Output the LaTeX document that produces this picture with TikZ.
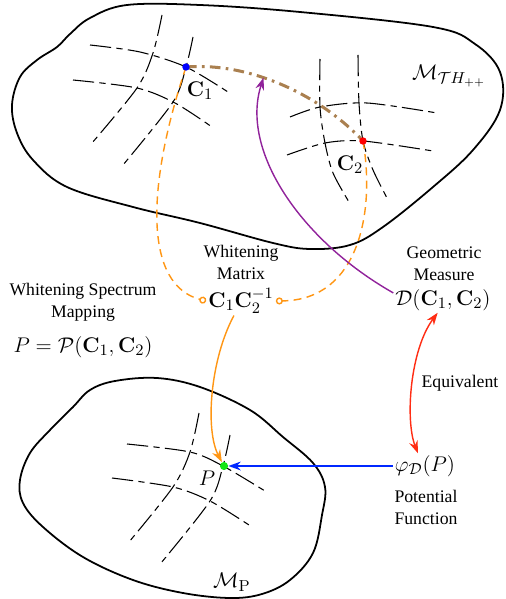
\documentclass[tikz,border=0pt]{standalone}
\usepackage[no-math]{fontspec}
\setmainfont{Liberation Serif}
\usetikzlibrary{arrows.meta}
\definecolor{geobrown}{RGB}{170,128,80}
\definecolor{wmorange}{RGB}{255,150,20}
\definecolor{mpurple}{RGB}{145,35,155}
\definecolor{eqred}{RGB}{255,45,20}
\definecolor{pblue}{RGB}{0,40,255}
\definecolor{pgreen}{RGB}{20,230,20}
\tikzset{
  blob/.style={line width=1pt},
  gridline/.style={line width=0.6pt, dash pattern=on 12pt off 3pt on 3.5pt off 3pt},
  dot/.style={circle, inner sep=0pt, minimum size=4.2pt},
  txt/.style={font=\fontsize{10}{12.4}\selectfont, align=center, inner sep=1pt},
  mth/.style={font=\fontsize{12.5}{15}\selectfont, inner sep=1pt},
  geo/.style={geobrown, line width=1.7pt, dash pattern=on 6pt off 3pt on 1.5pt off 3pt},
  whiten/.style={wmorange, line width=0.8pt, dash pattern=on 4.5pt off 3pt},
  opencirc/.style={-{Circle[open,length=4pt,line width=0.8pt]}},
  tip/.style={-{Stealth[length=7pt,width=5pt]}},
}
\begin{document}
\begin{tikzpicture}[x=0.565pt,y=-0.565pt]
\useasboundingbox (0,0) rectangle (505,599);

% manifolds
\draw[blob] plot[smooth cycle, tension=0.6] coordinates {
  (12,105) (20,77) (37,60) (57,47) (70,34) (90,18) (127,5) (200,5) (300,12)
  (433,27) (475,44) (500,72) (500,110) (473,150) (433,187) (383,227)
  (350,245) (310,249) (273,243) (200,223) (133,207) (67,187) (33,160) (17,133)};
\draw[blob] plot[smooth cycle, tension=0.6] coordinates {
  (20,480) (30,453) (50,430) (73,407) (90,390) (115,381) (157,378) (200,387)
  (250,410) (283,437) (313,463) (325,487) (322,515) (313,553) (290,580)
  (262,594) (230,598) (183,593) (133,580) (83,557) (43,527) (23,503)};

\coordinate (c1) at (186,67);
\coordinate (c2) at (363,141);
\coordinate (pp) at (224,466);

% grid on upper manifold
\draw[gridline] plot[smooth] coordinates {(90,45) (140,52) (186,67) (228,92)};
\draw[gridline] plot[smooth] coordinates {(73,80) (137,88) (175,103) (212,127)};
\draw[gridline] plot[smooth] coordinates {(162,15) (153,53) (137,88) (92,143)};
\draw[gridline] plot[smooth] coordinates {(193,37) (186,67) (173,102) (123,165)};
\draw[gridline] plot[smooth] coordinates {(320,59) (320,107) (325,143) (333,173) (349,202)};
\draw[gridline] plot[smooth] coordinates {(358,55) (359,103) (363,141) (373,170) (387,198)};
\draw[gridline] plot[smooth] coordinates {(290,117) (320,107) (367,103) (437,113)};
\draw[gridline] plot[smooth] coordinates {(287,155) (325,143) (363,141) (433,151)};

% grid on lower manifold
\draw[gridline] plot[smooth] coordinates {(127,444) (190,452) (223,466) (265,491)};
\draw[gridline] plot[smooth] coordinates {(112,478) (173,487) (210,501) (249,525)};
\draw[gridline] plot[smooth] coordinates {(199,413) (190,452) (173,487) (129,542)};
\draw[gridline] plot[smooth] coordinates {(230,435) (223,466) (210,501) (161,563)};

% texts
\node[mth] (mth) at (449,76) {$\mathcal{M}_{\mathcal{T}H_{++}}$};
\node[mth] (mp) at (232,582) {$\mathcal{M}_{\mathrm{P}}$};
\node[mth] (c1l) at (200,91) {$\mathbf{C}_1$};
\node[mth] (c2l) at (350,165) {$\mathbf{C}_2$};
\node[mth] (pl) at (207,478) {$P$};
\node[txt] (wm) at (241,262) {Whitening\\Matrix};
\node[mth] (cmat) at (241,301) {$\mathbf{C}_1\mathbf{C}_2^{-1}$};
\node[txt] (gm) at (444,264) {Geometric\\Measure};
\node[mth] (dm) at (443,300) {$\mathcal{D}(\mathbf{C}_1,\mathbf{C}_2)$};
\node[txt] (wsm) at (83,302) {Whitening Spectrum\\Mapping};
\node[mth] (pm) at (83,347) {$P=\mathcal{P}(\mathbf{C}_1,\mathbf{C}_2)$};
\node[txt] (eq) at (460,383) {Equivalent};
\node[mth] (phi) at (425,466) {$\varphi_{\mathcal{D}}(P)$};
\node[txt] (pf) at (426,507) {Potential\\Function};

% geodesic
\draw[geo] (c1) .. controls (250,62) and (320,95) .. coordinate[pos=0.4] (gtip) (c2);

% whitening dashed curves
\draw[whiten, opencirc] (c1) .. controls (145,190) and (145,285) .. (cmat.west);
\draw[whiten, opencirc] (c2) .. controls (375,210) and (360,300) .. (cmat.east);

% dots
\node[dot, fill=blue] (c1d) at (c1) {};
\node[dot, fill=red] (c2d) at (c2) {};
\node[dot, fill=pgreen, minimum size=4.6pt] (pd) at (pp) {};

% arrows
\draw[mpurple, line width=0.8pt, tip] ([yshift=4pt]dm.west) .. controls (300,240) and (240,150) .. (gtip);
\draw[wmorange, line width=0.8pt, tip] ([xshift=-4pt]cmat.south) .. controls (210,360) and (205,430) .. (pd);
\draw[eqred, line width=0.8pt, {Stealth[length=7pt,width=5pt]}-{Stealth[length=7pt,width=5pt]}] ([xshift=-3pt]dm.south) .. controls (410,350) and (405,420) .. ([xshift=-4pt]phi.north);
\draw[pblue, line width=0.8pt, tip] (phi.west) -- (pd);
\end{tikzpicture}
\end{document}
